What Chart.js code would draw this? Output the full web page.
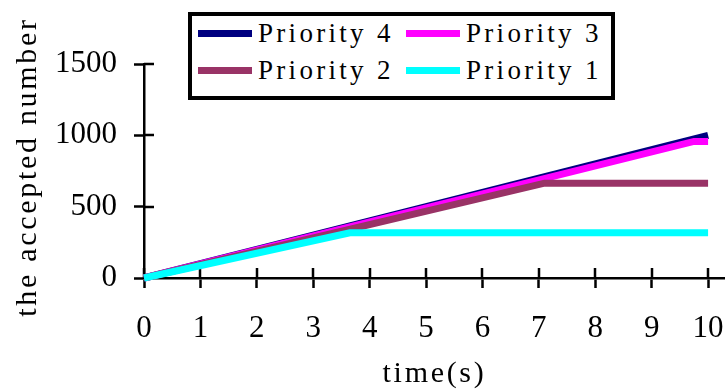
<!DOCTYPE html>
<html>
<head>
<meta charset="utf-8">
<script src="https://cdn.jsdelivr.net/npm/chart.js@4/dist/chart.umd.min.js"></script>
<style>
  body { margin: 0; background: #fff; }
  #wrap { position: relative; width: 725px; height: 389px; }
  #legend {
    position: absolute; left: 188px; top: 12px;
    width: 419px; height: 80px;
    border: 4px solid #000; background: #fff;
  }
  .item {
    position: absolute; height: 36px;
    display: flex; align-items: center;
    font-size: 27px; font-family: "Liberation Serif", "DejaVu Serif", serif;
    letter-spacing: 3.3px; color: #000;
    white-space: nowrap;
  }
  .swatch { display: inline-block; width: 54px; height: 7px; margin-right: 6px; }
</style>
</head>
<body>
<div id="wrap">
  <canvas id="myChart" width="725" height="389"></canvas>
  <div id="legend"></div>
</div>
<script>
var FONT = '"Liberation Serif", "DejaVu Serif", serif';

// series, legend order
var labels = ["Priority 4", "Priority 3", "Priority 2", "Priority 1"];
var colors = ["#000080", "#ff00ff", "#993366", "#00ffff"];

// time (s) and accepted number
var p4Time = [0, 10];
var p4Num  = [0, 1000];
var p3Time = [0, 9.75, 10];
var p3Num  = [0, 957, 957];
var p2Time = [0, 7.1, 10];
var p2Num  = [0, 665, 665];
var p1Time = [0, 3.65, 10];
var p1Num  = [0, 317, 317];

var xTicks = [0, 1, 2, 3, 4, 5, 6, 7, 8, 9, 10];
var yTicks = [0, 500, 1000, 1500];

var xTitle = "time(s)";
var yTitle = "the accepted number";

function pts(t, v) {
    var out = [];
    for (var i = 0; i < t.length; i++) out.push({x: t[i], y: v[i]});
    return out;
}

var series = [pts(p4Time, p4Num), pts(p3Time, p3Num), pts(p2Time, p2Num), pts(p1Time, p1Num)];

var datasets = [];
for (var i = 0; i < labels.length; i++) {
    datasets.push({
        label: labels[i],
        data: series[i],
        borderColor: colors[i],
        backgroundColor: colors[i],
        borderWidth: 7,
        borderCapStyle: 'butt',
        pointRadius: 0,
        fill: false,
        tension: 0,
        clip: false,
        order: labels.length - i
    });
}

// html legend built from the datasets
var leg = document.getElementById("legend");
var spots = [[6, -1], [214, -1], [6, 36], [214, 36]];
labels.forEach(function (lab, k) {
    var d = document.createElement("div");
    d.className = "item";
    d.style.left = spots[k][0] + "px";
    d.style.top = spots[k][1] + "px";
    var sw = document.createElement("span");
    sw.className = "swatch";
    sw.style.background = colors[k];
    d.appendChild(sw);
    d.appendChild(document.createTextNode(lab));
    leg.appendChild(d);
});

// ticks that cross the axis lines, plus the axis titles
var axisExtras = {
    id: 'axisExtras',
    beforeDatasetsDraw: function (chart) {
        var ctx = chart.ctx, area = chart.chartArea;
        var xs = chart.scales.x, ys = chart.scales.y;
        ctx.save();
        ctx.strokeStyle = '#000';
        ctx.lineWidth = 2.5;
        ctx.beginPath();
        xs.ticks.forEach(function (t) {
            var px = Math.round(xs.getPixelForValue(t.value));
            ctx.moveTo(px, area.bottom);
            ctx.lineTo(px, area.bottom - 10);
        });
        ys.ticks.forEach(function (t) {
            var py = Math.round(ys.getPixelForValue(t.value));
            ctx.moveTo(area.left, py);
            ctx.lineTo(area.left + 10, py);
        });
        ctx.stroke();
        ctx.restore();
    },
    afterDraw: function (chart) {
        var ctx = chart.ctx, area = chart.chartArea;
        ctx.save();
        ctx.fillStyle = '#000';
        ctx.font = '30px ' + FONT;
        ctx.letterSpacing = '2.7px';
        ctx.textAlign = 'center';
        ctx.textBaseline = 'middle';
        ctx.fillText(xTitle, (area.left + area.right) / 2, chart.height - 15);
        ctx.translate(28, (area.top + area.bottom) / 2 - 4);
        ctx.rotate(-Math.PI / 2);
        ctx.fillText(yTitle, 0, 0);
        ctx.restore();
    }
};

var myChart = new Chart(document.getElementById('myChart'), {
    type: 'line',
    data: { datasets: datasets },
    plugins: [axisExtras],
    options: {
        responsive: false,
        animation: false,
        maintainAspectRatio: false,
        layout: { padding: { top: 64, right: 0, left: 0, bottom: 0 } },
        plugins: {
            legend: { display: false },
            tooltip: { enabled: false }
        },
        scales: {
            x: {
                type: 'linear',
                min: 0,
                max: 10.3,
                afterBuildTicks: function (s) { s.ticks = xTicks.map(function (v) { return {value: v}; }); },
                afterFit: function (s) { s.height = 111; s.paddingLeft = 0; s.paddingRight = 0; },
                grid: { drawOnChartArea: false, drawTicks: true, tickLength: 10, tickWidth: 2.5, tickColor: '#000' },
                border: { color: '#000', width: 2.5 },
                ticks: {
                    color: '#000', padding: 22, maxRotation: 0, autoSkip: false,
                    font: { family: FONT, size: 31 },
                    callback: function (v) { return String(v); }
                }
            },
            y: {
                min: 0,
                max: 1500,
                afterBuildTicks: function (s) { s.ticks = yTicks.map(function (v) { return {value: v}; }); },
                afterFit: function (s) { s.width = 144; s.paddingTop = 0; s.paddingBottom = 0; },
                grid: { drawOnChartArea: false, drawTicks: true, tickLength: 10, tickWidth: 2.5, tickColor: '#000' },
                border: { color: '#000', width: 2.5 },
                ticks: {
                    color: '#000', padding: 17,
                    font: { family: FONT, size: 31 },
                    callback: function (v) { return String(v); }
                }
            }
        }
    }
});
</script>
</body>
</html>
